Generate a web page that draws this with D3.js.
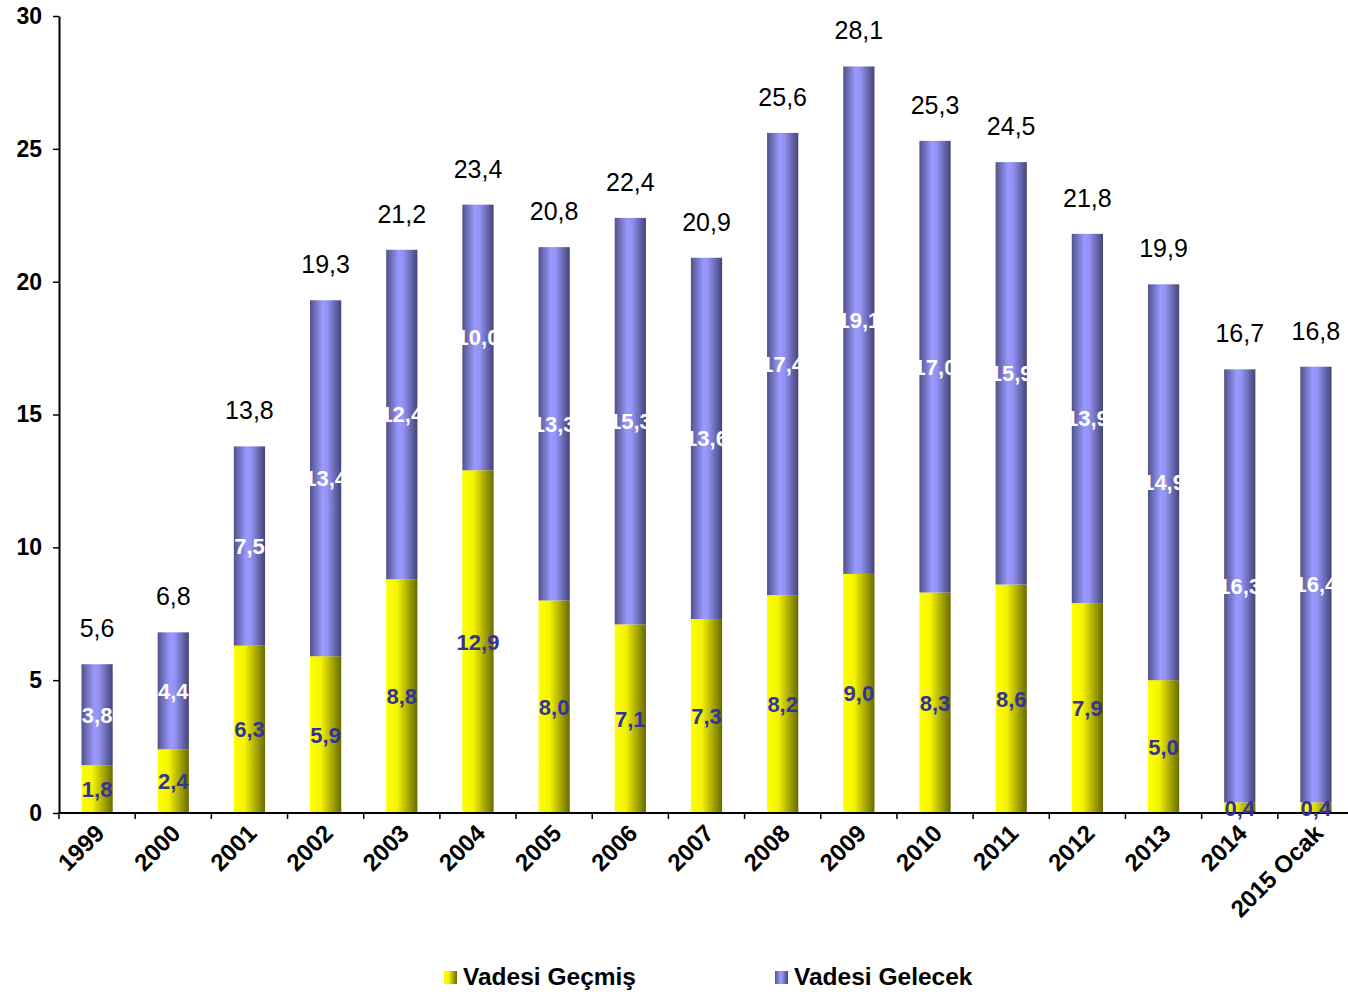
<!DOCTYPE html>
<html>
<head>
<meta charset="utf-8">
<script src="https://cdn.jsdelivr.net/npm/d3@7"></script>
<style>
  body { margin: 0; background: #fff; }
  svg { display: block; font-family: "Liberation Sans", Arial, sans-serif; }
</style>
</head>
<body>
<div id="chart"></div>
<script>
// values
const years = ["1999", "2000", "2001", "2002", "2003", "2004", "2005", "2006", "2007",
               "2008", "2009", "2010", "2011", "2012", "2013", "2014", "2015 Ocak"];
const vadesiGecmis = [1.8, 2.4, 6.3, 5.9, 8.8, 12.9, 8.0, 7.1, 7.3, 8.2, 9.0, 8.3, 8.6, 7.9, 5.0, 0.4, 0.4];
const vadesiGelecek = [3.8, 4.4, 7.5, 13.4, 12.4, 10.0, 13.3, 15.3, 13.6, 17.4, 19.1, 17.0, 15.9, 13.9, 14.9, 16.3, 16.4];
const totals = [5.6, 6.8, 13.8, 19.3, 21.2, 23.4, 20.8, 22.4, 20.9, 25.6, 28.1, 25.3, 24.5, 21.8, 19.9, 16.7, 16.8];
const yTicks = [0, 5, 10, 15, 20, 25, 30];
const seriesNames = ["Vadesi Geçmiş", "Vadesi Gelecek"];

const W = 1348, H = 994;
const margin = { top: 16, right: -6, bottom: 181, left: 59 };
const width = W - margin.left - margin.right;
const height = H - margin.top - margin.bottom;

const fmt = v => v.toFixed(1).replace(".", ",");

const svgRoot = d3.select("#chart").append("svg")
    .attr("width", W)
    .attr("height", H);

// gradients for the cylinder look
const defs = svgRoot.append("defs");
const yellowGrad = defs.append("linearGradient").attr("id", "gYellow")
    .attr("x1", "0%").attr("x2", "100%").attr("y1", "0%").attr("y2", "0%");
yellowGrad.append("stop").attr("offset", "0%").attr("stop-color", "#ffff00");
yellowGrad.append("stop").attr("offset", "35%").attr("stop-color", "#f4f400");
yellowGrad.append("stop").attr("offset", "100%").attr("stop-color", "#6a6a00");

const blueGrad = defs.append("linearGradient").attr("id", "gBlue")
    .attr("x1", "0%").attr("x2", "100%").attr("y1", "0%").attr("y2", "0%");
blueGrad.append("stop").attr("offset", "0%").attr("stop-color", "#52528a");
blueGrad.append("stop").attr("offset", "40%").attr("stop-color", "#9999ff");
blueGrad.append("stop").attr("offset", "55%").attr("stop-color", "#9393f5");
blueGrad.append("stop").attr("offset", "100%").attr("stop-color", "#444478");

const svg = svgRoot.append("g")
    .attr("transform", "translate(" + margin.left + "," + margin.top + ")");

const xScale = d3.scaleBand()
    .domain(years)
    .range([0, width])
    .paddingInner(0.59)
    .paddingOuter(0.295);

const yScale = d3.scaleLinear()
    .domain([0, 30])
    .range([height, 0]);

const rows = years.map((y, i) => ({
    year: y,
    g: vadesiGecmis[i],
    f: vadesiGelecek[i],
    total: totals[i]
}));

// yellow (lower) segment
svg.selectAll(".bar-g")
    .data(rows)
    .enter().append("rect")
    .attr("class", "bar-g")
    .attr("x", d => xScale(d.year))
    .attr("width", xScale.bandwidth())
    .attr("y", d => yScale(d.g))
    .attr("height", d => height - yScale(d.g))
    .attr("fill", "url(#gYellow)");

// blue (upper) segment
svg.selectAll(".bar-f")
    .data(rows)
    .enter().append("rect")
    .attr("class", "bar-f")
    .attr("x", d => xScale(d.year))
    .attr("width", xScale.bandwidth())
    .attr("y", d => yScale(d.g + d.f))
    .attr("height", d => yScale(d.g) - yScale(d.g + d.f))
    .attr("fill", "url(#gBlue)");

// y axis
const yAxis = svg.append("g")
    .call(d3.axisLeft(yScale).tickValues(yTicks).tickSize(6).tickPadding(11).tickSizeOuter(0));
yAxis.select(".domain").attr("stroke", "#000").attr("stroke-width", 2);
yAxis.selectAll(".tick line").attr("stroke", "#000").attr("stroke-width", 1.5);
yAxis.selectAll(".tick text")
    .attr("fill", "#000")
    .style("font-size", "23px")
    .style("font-weight", "bold");

// x axis with ticks on the band edges
const xAxisG = svg.append("g")
    .attr("transform", "translate(0," + height + ")");
xAxisG.append("line")
    .attr("x1", -1).attr("x2", width)
    .attr("stroke", "#000").attr("stroke-width", 2);
const step = xScale.step();
xAxisG.selectAll(".xtick")
    .data(years)
    .enter().append("line")
    .attr("class", "xtick")
    .attr("x1", (d, i) => i * step)
    .attr("x2", (d, i) => i * step)
    .attr("y1", 0).attr("y2", 6)
    .attr("stroke", "#000").attr("stroke-width", 1.5);
xAxisG.selectAll(".xlabel")
    .data(years)
    .enter().append("text")
    .attr("class", "xlabel")
    .attr("transform", d => "translate(" + (xScale(d) + xScale.bandwidth() / 2 - 4) + ",9) rotate(-45)")
    .attr("text-anchor", "end")
    .attr("dy", "0.75em")
    .style("font-size", "24px")
    .style("font-weight", "bold")
    .attr("fill", "#000")
    .text(d => d);

// value labels inside segments
svg.selectAll(".lbl-g")
    .data(rows)
    .enter().append("text")
    .attr("class", "lbl-g")
    .attr("x", d => xScale(d.year) + xScale.bandwidth() / 2)
    .attr("y", d => yScale(d.g / 2))
    .attr("dy", "0.36em")
    .attr("text-anchor", "middle")
    .style("font-size", "22px")
    .style("font-weight", "bold")
    .attr("fill", "#333399")
    .text(d => fmt(d.g));

svg.selectAll(".lbl-f")
    .data(rows)
    .enter().append("text")
    .attr("class", "lbl-f")
    .attr("x", d => xScale(d.year) + xScale.bandwidth() / 2)
    .attr("y", d => yScale(d.g + d.f / 2))
    .attr("dy", "0.36em")
    .attr("text-anchor", "middle")
    .style("font-size", "22px")
    .style("font-weight", "bold")
    .attr("fill", "#ffffff")
    .text(d => fmt(d.f));

// totals above bars
svg.selectAll(".lbl-t")
    .data(rows)
    .enter().append("text")
    .attr("class", "lbl-t")
    .attr("x", d => xScale(d.year) + xScale.bandwidth() / 2)
    .attr("y", d => yScale(d.g + d.f) - 27)
    .attr("text-anchor", "middle")
    .style("font-size", "25px")
    .attr("fill", "#000")
    .text(d => fmt(d.total));

// legend
const legend = svgRoot.append("g");
const legendX = [444, 775];
const legendFill = ["url(#gYellow)", "url(#gBlue)"];
seriesNames.forEach((name, i) => {
    const g = legend.append("g").attr("transform", "translate(" + legendX[i] + ",971)");
    g.append("rect").attr("width", 13).attr("height", 13).attr("fill", legendFill[i]);
    g.append("text")
        .attr("x", 19)
        .attr("y", 14)
        .style("font-size", "24.5px")
        .style("font-weight", "bold")
        .attr("fill", "#000")
        .text(name);
});
</script>
</body>
</html>
